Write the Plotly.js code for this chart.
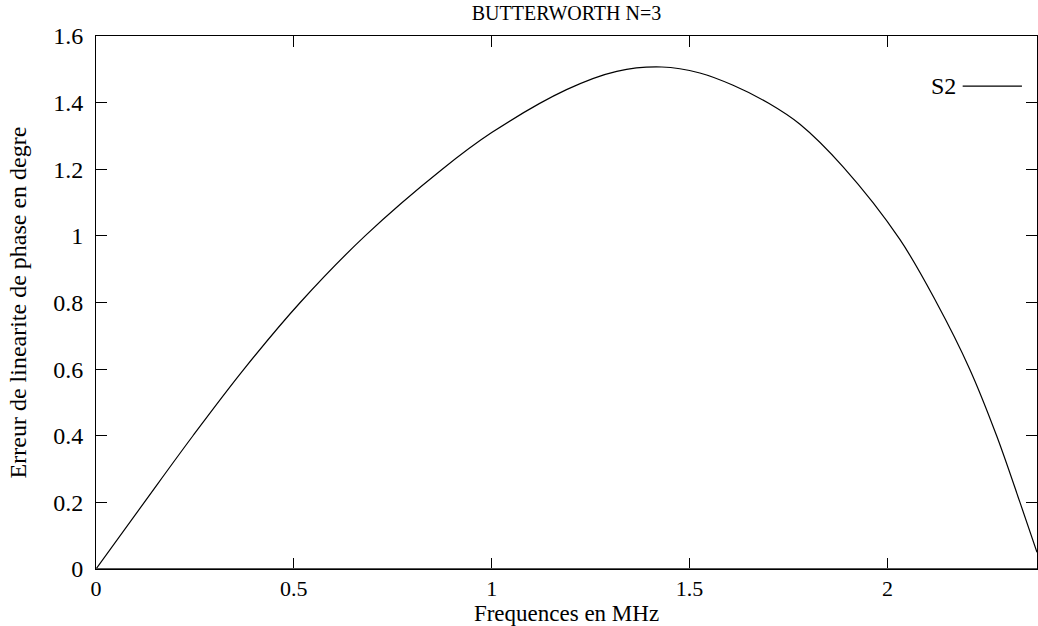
<!DOCTYPE html>
<html>
<head>
<meta charset="utf-8">
<script src="https://cdn.plot.ly/plotly-3.0.1.min.js"></script>
<style>html,body{margin:0;padding:0;background:#fff;}#chart{width:1038px;height:626px;}</style>
</head>
<body>
<div id="chart"></div>
<script>
// Data
const freqMHz = [0, 0.122, 0.245, 0.374, 0.516, 0.680, 0.875, 1.0, 1.189, 1.316, 1.43, 1.526, 1.61, 1.70, 1.779, 1.888, 2.031, 2.124, 2.208, 2.276, 2.335, 2.378];
const phaseErr = [0, 0.2, 0.4, 0.6, 0.8, 1.0, 1.2, 1.31, 1.439, 1.494, 1.507, 1.489, 1.452, 1.398, 1.335, 1.207, 0.99, 0.8, 0.6, 0.4, 0.2, 0.05];
const seriesName = "S2";
const xTicks = [0, 0.5, 1, 1.5, 2];
const xTickText = ["0", "0.5", "1", "1.5", "2"];
const yTicks = [0, 0.2, 0.4, 0.6, 0.8, 1, 1.2, 1.4, 1.6];
const yTickText = ["0", "0.2", "0.4", "0.6", "0.8", "1", "1.2", "1.4", "1.6"];

const font = "Liberation Serif, Times New Roman, serif";

const trace = {
  x: freqMHz, y: phaseErr, name: seriesName, type: "scatter", mode: "lines",
  line: {color: "#000", width: 1.2, shape: "spline", smoothing: 1.0},
  showlegend: false, hoverinfo: "x+y"
};

const layout = {
  width: 1038, height: 626,
  margin: {l: 96, r: 1, t: 36, b: 57, pad: 0},
  paper_bgcolor: "#fff", plot_bgcolor: "#fff",
  font: {family: font, size: 24, color: "#000"},
  title: {text: "BUTTERWORTH N=3", font: {family: font, size: 20, color: "#000"}, x: 0.5, xanchor: "center", y: 0.99, yanchor: "top", xref: "paper"},
  xaxis: {
    range: [0, 2.378], tickmode: "array", tickvals: xTicks, ticktext: xTickText,
    ticks: "inside", ticklen: 11, tickcolor: "#000", tickwidth: 1,
    showline: true, linecolor: "#000", linewidth: 1, mirror: "allticks",
    showgrid: false, zeroline: false, ticklabelstandoff: 0,
    title: {text: "Frequences en MHz", font: {family: font, size: 23}, standoff: 2},
    tickfont: {family: font, size: 22}, automargin: false
  },
  yaxis: {
    range: [0, 1.6], tickmode: "array", tickvals: yTicks, ticktext: yTickText,
    ticks: "inside", ticklen: 11, tickcolor: "#000", tickwidth: 1,
    showline: true, linecolor: "#000", linewidth: 1, mirror: "allticks",
    showgrid: false, zeroline: false, ticklabelstandoff: 7,
    title: {text: "Erreur de linearite de phase en degre", font: {family: font, size: 24}, standoff: 19},
    tickfont: {family: font, size: 24}, automargin: false
  },
  shapes: [
    {type: "line", xref: "paper", yref: "y", x0: 0, x1: 1, y0: 0, y1: 0, line: {color: "#555", width: 2}, layer: "above"},
    {type: "line", xref: "paper", yref: "paper", x0: 0.921, x1: 0.984, y0: 0.906, y1: 0.906, line: {color: "#000", width: 1.2}}
  ],
  annotations: [
    {text: seriesName, xref: "paper", yref: "paper", x: 0.916, y: 0.906, xanchor: "right", yanchor: "middle", showarrow: false, font: {family: font, size: 24, color: "#000"}}
  ]
};

Plotly.newPlot("chart", [trace], layout, {displayModeBar: false, staticPlot: true});
</script>
</body>
</html>
